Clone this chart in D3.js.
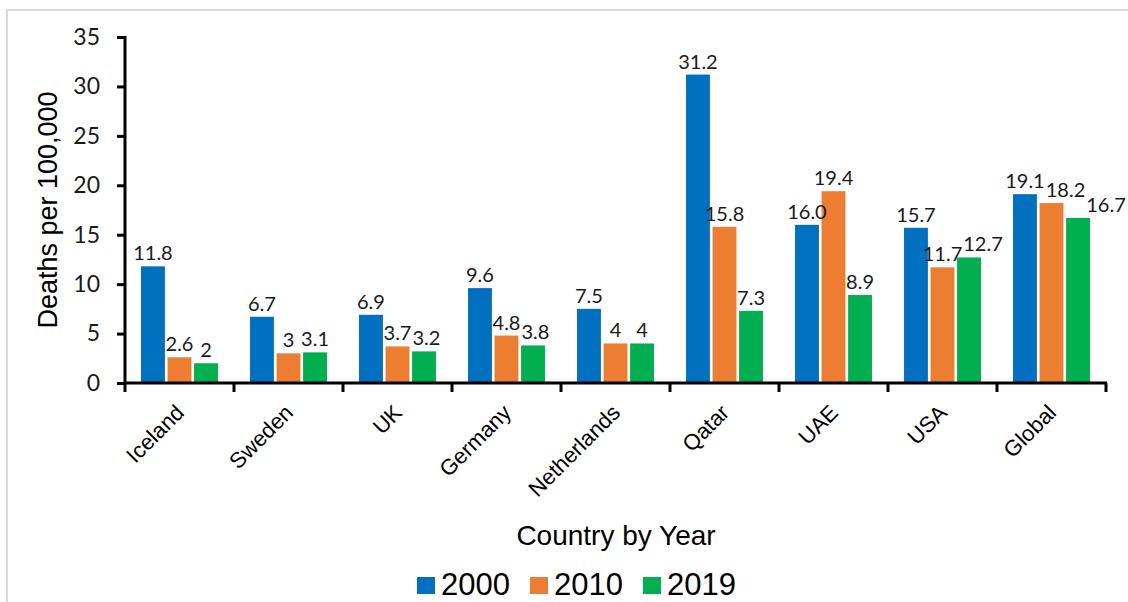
<!DOCTYPE html>
<html>
<head>
<meta charset="utf-8">
<script src="https://cdn.jsdelivr.net/npm/d3@7"></script>
<style>
  html, body { margin: 0; padding: 0; background: #fff; }
  svg { display: block; }
</style>
</head>
<body>
<svg id="chart" width="1128" height="602"></svg>
<script>
// ---- data ----
const categories = ["Iceland", "Sweden", "UK", "Germany", "Netherlands", "Qatar", "UAE", "USA", "Global"];
const years = ["2000", "2010", "2019"];
const values2000 = [11.8, 6.7, 6.9, 9.6, 7.5, 31.2, 16.0, 15.7, 19.1];
const values2010 = [2.6, 3, 3.7, 4.8, 4, 15.8, 19.4, 11.7, 18.2];
const values2019 = [2, 3.1, 3.2, 3.8, 4, 7.3, 8.9, 12.7, 16.7];
const labels2000 = ["11.8", "6.7", "6.9", "9.6", "7.5", "31.2", "16.0", "15.7", "19.1"];
const labels2010 = ["2.6", "3", "3.7", "4.8", "4", "15.8", "19.4", "11.7", "18.2"];
const labels2019 = ["2", "3.1", "3.2", "3.8", "4", "7.3", "8.9", "12.7", "16.7"];
const yTicks = [0, 5, 10, 15, 20, 25, 30, 35];
const yTitle = "Deaths per 100,000";
const xTitle = "Country by Year";
const colors = ["#0070C0", "#ED7D31", "#00B050"];

const seriesValues = [values2000, values2010, values2019];
const seriesLabels = [labels2000, labels2010, labels2019];

// ---- layout ----
const svg = d3.select("#chart");
const plotLeft = 125, plotRight = 1106, plotTop = 37, plotBottom = 383;

// outer frame
svg.append("rect")
  .attr("x", 7).attr("y", 10).attr("width", 1300).attr("height", 800)
  .attr("fill", "none").attr("stroke", "#d9d9d9").attr("stroke-width", 2);

const x0 = d3.scaleBand().domain(categories).range([plotLeft, plotRight]).padding(0);
const bw = x0.bandwidth();
const x1 = d3.scaleBand().domain(years).range([bw * 0.147, bw * 0.853]).paddingInner(0.1);
const y = d3.scaleLinear().domain([0, 35]).range([plotBottom, plotTop]);
const color = d3.scaleOrdinal().domain(years).range(colors);

const rows = [];
categories.forEach((c, i) => {
  years.forEach((yr, s) => {
    rows.push({ cat: c, year: yr, value: seriesValues[s][i], label: seriesLabels[s][i] });
  });
});

// bars
svg.append("g").selectAll("rect").data(rows).join("rect")
  .attr("x", d => x0(d.cat) + x1(d.year))
  .attr("y", d => y(d.value))
  .attr("width", x1.bandwidth())
  .attr("height", d => y(0) - y(d.value))
  .attr("fill", d => color(d.year));

// data labels
const labelSel = svg.append("g").selectAll("text").data(rows).join("text")
  .attr("x", d => x0(d.cat) + x1(d.year) + x1.bandwidth() / 2)
  .attr("y", d => y(d.value) - 6)
  .attr("text-anchor", "middle")
  .attr("font-family", "Lato, 'Open Sans', sans-serif")
  .attr("font-size", 20)
  .attr("fill", "#1a1a1a")
  .text(d => d.label);

// simple collision avoidance within each group: nudge later labels right
const capH = 15;
const placed = {};
labelSel.each(function (d) {
  const node = this;
  const bb = node.getBBox();
  const base = +node.getAttribute("y");
  let box = { x0: bb.x, x1: bb.x + bb.width, y0: base - capH, y1: base };
  const prev = placed[d.cat] || [];
  prev.forEach(p => {
    const vOverlap = box.y0 < p.y1 && box.y1 > p.y0;
    if (vOverlap && box.x0 < p.x1 + 1) {
      const shift = p.x1 + 1 - box.x0;
      node.setAttribute("x", +node.getAttribute("x") + shift);
      box.x0 += shift; box.x1 += shift;
    }
  });
  prev.push(box);
  placed[d.cat] = prev;
});

// y axis
const yAxis = svg.append("g")
  .attr("transform", `translate(${plotLeft},0)`)
  .call(d3.axisLeft(y).tickValues(yTicks).tickSize(8).tickPadding(17).tickFormat(d3.format("d")));
yAxis.select(".domain").attr("stroke", "#000").attr("stroke-width", 3)
  .attr("d", `M0,${plotTop - 1}V${plotBottom + 1}`);
yAxis.selectAll(".tick line").attr("stroke", "#000").attr("stroke-width", 3);
yAxis.selectAll(".tick text")
  .attr("font-family", "Lato, 'Open Sans', sans-serif")
  .attr("font-size", 23)
  .attr("fill", "#1a1a1a");

// x axis
const xAxis = svg.append("g")
  .attr("transform", `translate(0,${plotBottom})`)
  .call(d3.axisBottom(x0).tickSize(0).tickFormat(""));
xAxis.select(".domain").attr("stroke", "#000").attr("stroke-width", 3)
  .attr("d", `M${plotLeft - 1},0H${plotRight + 1}`);
// boundary tick marks
const bounds = categories.map(c => x0(c)).concat([plotRight]);
xAxis.selectAll("line.bound").data(bounds).join("line")
  .attr("class", "bound")
  .attr("x1", d => d).attr("x2", d => d)
  .attr("y1", 0).attr("y2", 9)
  .attr("stroke", "#000").attr("stroke-width", 3);

// category labels
svg.append("g").selectAll("text").data(categories).join("text")
  .attr("transform", d => `translate(${x0(d) + bw / 2 + 6},${plotBottom + 31}) rotate(-45)`)
  .attr("text-anchor", "end")
  .attr("font-family", "'Liberation Sans', Arial, sans-serif")
  .attr("font-size", 22)
  .attr("fill", "#000")
  .text(d => d);

// axis titles
svg.append("text")
  .attr("transform", `translate(57,210) rotate(-90)`)
  .attr("text-anchor", "middle")
  .attr("font-family", "'Liberation Sans', Arial, sans-serif")
  .attr("font-size", 27)
  .attr("fill", "#000")
  .text(yTitle);

svg.append("text")
  .attr("x", 616).attr("y", 545)
  .attr("text-anchor", "middle")
  .attr("font-family", "'Liberation Sans', Arial, sans-serif")
  .attr("font-size", 28)
  .attr("fill", "#000")
  .text(xTitle);

// legend
const legend = svg.append("g").attr("transform", "translate(417,0)");
const item = legend.selectAll("g").data(years).join("g")
  .attr("transform", (d, i) => `translate(${i * 113},0)`);
item.append("rect")
  .attr("x", 0).attr("y", 577).attr("width", 18).attr("height", 17)
  .attr("fill", d => color(d));
item.append("text")
  .attr("x", 24).attr("y", 595)
  .attr("font-family", "'Liberation Sans', Arial, sans-serif")
  .attr("font-size", 31)
  .attr("fill", "#000")
  .text(d => d);
</script>
</body>
</html>
